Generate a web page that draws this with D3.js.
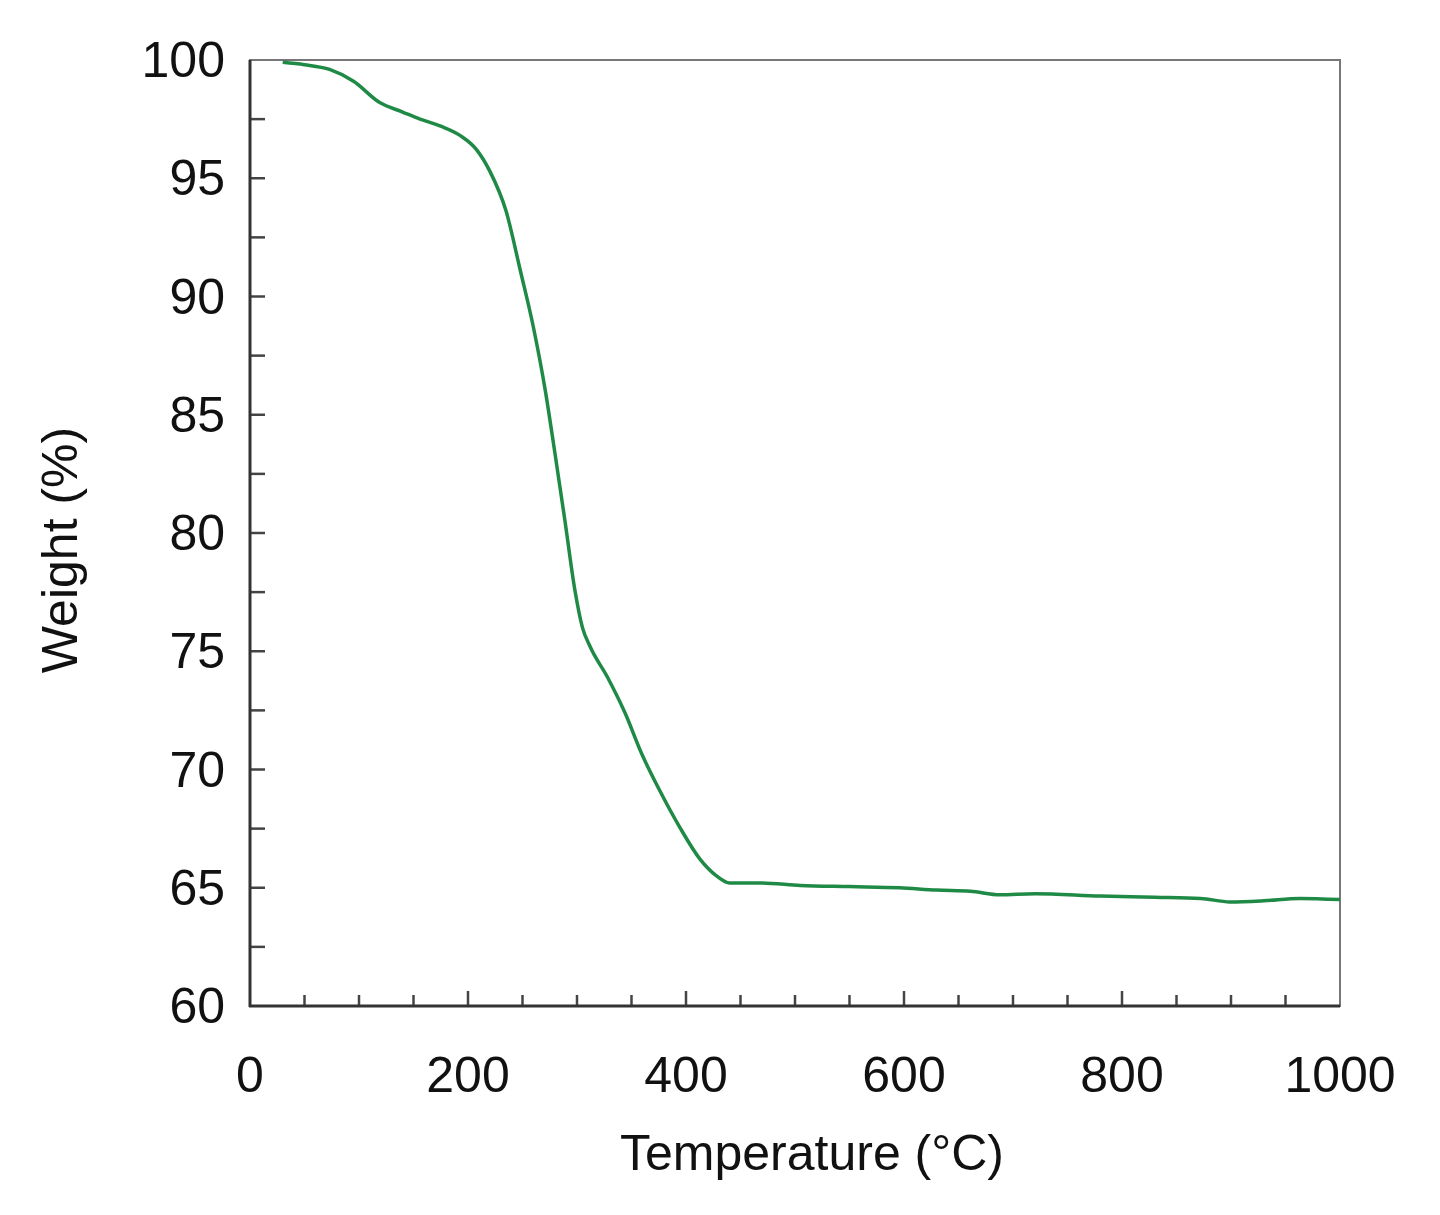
<!DOCTYPE html><html><head><script src="https://cdn.jsdelivr.net/npm/d3@7"></script>
<style>body{margin:0;background:#fff}</style></head><body><svg id="c" width="1440" height="1215"></svg>
<script>
const temps=[30,50,73,95,119,140,156,175,193,208,220,235,248,260,271,280,289,298,305,312,328,344,360,376,395,413,428,440,468,505,550,596,630,661,688,720,780,830,872,899,930,963,1000];
const weights=[99.9,99.8,99.6,99.1,98.2,97.8,97.5,97.2,96.8,96.2,95.3,93.6,91.1,88.7,86.0,83.3,80.5,77.6,76.0,75.2,73.9,72.4,70.6,69.1,67.5,66.2,65.5,65.2,65.2,65.1,65.05,65.0,64.9,64.85,64.7,64.75,64.65,64.6,64.55,64.4,64.45,64.55,64.5];
const xTicks=[0,200,400,600,800,1000];
const yTicks=[60,65,70,75,80,85,90,95,100];
const svg=d3.select("#c");
const x=d3.scaleLinear().domain([0,1000]).range([250,1340]);
const y=d3.scaleLinear().domain([60,100]).range([1006,60]);
const font="Liberation Sans, Arial, sans-serif";
svg.append("rect").attr("x",250).attr("y",60).attr("width",1090).attr("height",946).attr("fill","none").attr("stroke","#777").attr("stroke-width",2);
const g=svg.append("g");
d3.range(50,1000,50).forEach(t=>g.append("line").attr("x1",x(t)).attr("x2",x(t)).attr("y1",1006).attr("y2",1006-(t%200==0?15:11)).attr("stroke","#444").attr("stroke-width",2.5));
d3.range(62.5,100,2.5).forEach(t=>g.append("line").attr("x1",250).attr("x2",265).attr("y1",y(t)).attr("y2",y(t)).attr("stroke","#444").attr("stroke-width",2.5));
svg.append("line").attr("x1",250).attr("x2",250).attr("y1",60).attr("y2",1007).attr("stroke","#333").attr("stroke-width",3);
svg.append("line").attr("x1",249).attr("x2",1340).attr("y1",1006).attr("y2",1006).attr("stroke","#333").attr("stroke-width",3);
xTicks.forEach(t=>svg.append("text").attr("x",x(t)).attr("y",1092).attr("text-anchor","middle").attr("font-family",font).attr("font-size",50).attr("fill","#111").text(t));
yTicks.forEach(t=>svg.append("text").attr("x",225).attr("y",y(t)+17).attr("text-anchor","end").attr("font-family",font).attr("font-size",50).attr("fill","#111").text(t));
svg.append("text").attr("x",812).attr("y",1170).attr("text-anchor","middle").attr("font-family",font).attr("font-size",50).attr("fill","#111").text("Temperature (°C)");
svg.append("text").attr("transform","translate(77,550) rotate(-90)").attr("text-anchor","middle").attr("font-family",font).attr("font-size",50).attr("fill","#111").text("Weight (%)");
const line=d3.line().x((d,i)=>x(temps[i])).y(d=>y(d)).curve(d3.curveMonotoneX);
svg.append("path").attr("d",line(weights)).attr("fill","none").attr("stroke","#1f8a45").attr("stroke-width",3.5);
</script></body></html>
